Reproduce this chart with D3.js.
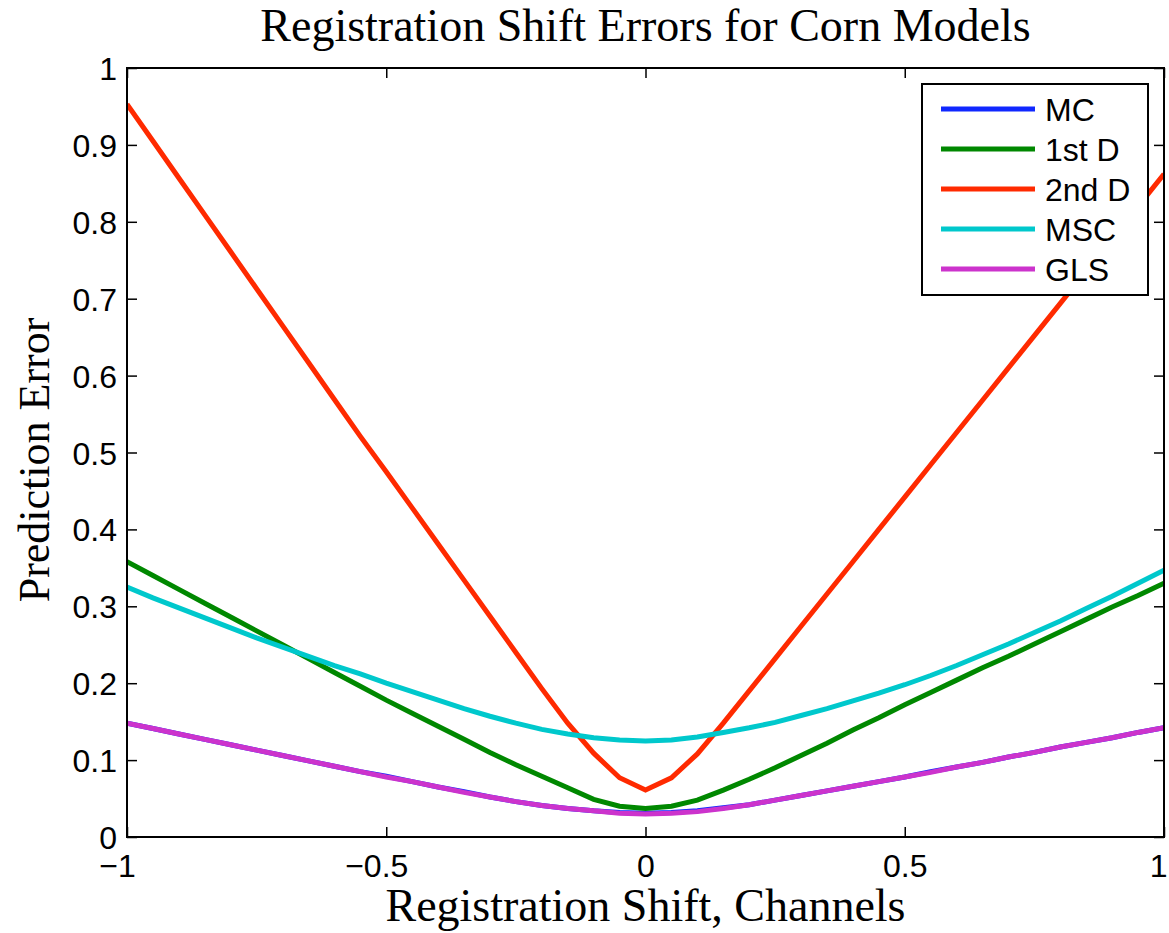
<!DOCTYPE html>
<html>
<head>
<meta charset="utf-8">
<script src="https://cdn.jsdelivr.net/npm/d3@7"></script>
<style>
  html, body { margin: 0; padding: 0; background: #fff; }
  svg { display: block; }
</style>
</head>
<body>
<svg id="chart" width="1169" height="933"></svg>
<script>
// ---- data ----
const shifts = [-1,-0.95,-0.9,-0.85,-0.8,-0.75,-0.7,-0.65,-0.6,-0.55,-0.5,-0.45,-0.4,-0.35,-0.3,-0.25,-0.2,-0.15,-0.1,-0.05,0,
                0.05,0.1,0.15,0.2,0.25,0.3,0.35,0.4,0.45,0.5,0.55,0.6,0.65,0.7,0.75,0.8,0.85,0.9,0.95,1];

const mcValues = [0.148,0.141,0.134,0.127,0.120,0.113,0.106,0.099,0.092,0.085,0.079,0.072,0.065,0.059,0.052,0.046,0.041,0.037,0.034,0.032,0.031,
                  0.032,0.034,0.038,0.042,0.048,0.054,0.060,0.066,0.072,0.078,0.085,0.091,0.097,0.104,0.110,0.117,0.123,0.129,0.136,0.142];
const firstDValues = [0.358,0.340,0.322,0.304,0.286,0.268,0.250,0.232,0.214,0.196,0.178,0.161,0.144,0.127,0.110,0.094,0.079,0.064,0.049,0.040,0.037,
                      0.040,0.048,0.061,0.075,0.090,0.106,0.122,0.139,0.155,0.172,0.188,0.204,0.220,0.235,0.251,0.267,0.283,0.299,0.314,0.330];
const secondDValues = [0.953,0.905,0.857,0.809,0.761,0.713,0.665,0.617,0.569,0.521,0.475,0.428,0.381,0.334,0.287,0.240,0.193,0.148,0.109,0.077,0.061,
                       0.077,0.108,0.148,0.190,0.232,0.274,0.316,0.358,0.400,0.442,0.484,0.526,0.568,0.610,0.652,0.694,0.736,0.778,0.820,0.862];
const mscValues = [0.325,0.311,0.298,0.285,0.272,0.259,0.247,0.235,0.223,0.212,0.200,0.189,0.178,0.167,0.157,0.148,0.140,0.134,0.129,0.126,0.125,
                   0.126,0.130,0.136,0.142,0.149,0.158,0.167,0.177,0.187,0.198,0.210,0.223,0.237,0.251,0.266,0.281,0.297,0.313,0.330,0.347];
const glsValues = [0.148,0.141,0.134,0.127,0.120,0.113,0.106,0.099,0.092,0.085,0.078,0.072,0.065,0.058,0.052,0.046,0.041,0.037,0.034,0.031,0.030,
                   0.031,0.033,0.037,0.042,0.048,0.054,0.060,0.066,0.072,0.078,0.084,0.091,0.097,0.104,0.110,0.117,0.123,0.129,0.136,0.142];

const seriesNames = ["MC", "1st D", "2nd D", "MSC", "GLS"];
const seriesColors = ["#1028ff", "#008800", "#ff2a00", "#00c8cc", "#cc33cc"];
const xTicks = [-1, -0.5, 0, 0.5, 1];
const xTickLabels = ["\u22121", "\u22120.5", "0", "0.5", "1"];
const yTicks = [0, 0.1, 0.2, 0.3, 0.4, 0.5, 0.6, 0.7, 0.8, 0.9, 1];
const yTickLabels = ["0", "0.1", "0.2", "0.3", "0.4", "0.5", "0.6", "0.7", "0.8", "0.9", "1"];
const titleText = "Registration Shift Errors for Corn Models";
const xLabelText = "Registration Shift, Channels";
const yLabelText = "Prediction Error";

const seriesValues = [mcValues, firstDValues, secondDValues, mscValues, glsValues];

// ---- layout ----
const svg = d3.select("#chart");
const pLeft = 127, pRight = 1164, pTop = 68, pBottom = 837;
const x = d3.scaleLinear().domain([-1, 1]).range([pLeft, pRight]);
const y = d3.scaleLinear().domain([0, 1]).range([pBottom, pTop]);

const sansFont = "'Liberation Sans', Arial, Helvetica, sans-serif";
const serifFont = "'Liberation Serif', 'Times New Roman', serif";

// clip
svg.append("defs").append("clipPath").attr("id", "clip")
  .append("rect").attr("x", pLeft).attr("y", pTop).attr("width", pRight - pLeft).attr("height", pBottom - pTop);

// series lines
const line = d3.line().x((d, i) => x(shifts[i])).y(d => y(d));
const plot = svg.append("g").attr("clip-path", "url(#clip)");
seriesValues.forEach((vals, k) => {
  plot.append("path")
    .datum(vals)
    .attr("d", line)
    .attr("fill", "none")
    .attr("stroke", seriesColors[k])
    .attr("stroke-width", 5)
    .attr("stroke-linejoin", "miter");
});

// axes (ticks inward)
const tickLen = 10;
function styleAxis(g) {
  g.selectAll(".domain").remove();
  g.selectAll(".tick line").attr("stroke", "#000").attr("stroke-width", 1.5);
  g.selectAll("text").attr("font-family", sansFont).attr("font-size", 32).attr("fill", "#000");
}

const xAxisB = svg.append("g").attr("transform", `translate(0,${pBottom})`)
  .call(d3.axisBottom(x).tickValues(xTicks).tickSize(-tickLen).tickPadding(0)
        .tickFormat((d, i) => xTickLabels[i]));
styleAxis(xAxisB);
xAxisB.selectAll("text").attr("y", 40).attr("dy", null)
  .attr("x", d => (d < 0 ? -10 : (d === 1 ? 3 : 0)))
  .attr("text-anchor", d => (d === 1 ? "end" : "middle"));

const xAxisT = svg.append("g").attr("transform", `translate(0,${pTop})`)
  .call(d3.axisTop(x).tickValues(xTicks).tickSize(-tickLen).tickFormat(""));
styleAxis(xAxisT);

const yAxisL = svg.append("g").attr("transform", `translate(${pLeft},0)`)
  .call(d3.axisLeft(y).tickValues(yTicks).tickSize(-tickLen).tickPadding(10)
        .tickFormat((d, i) => yTickLabels[i]));
styleAxis(yAxisL);
yAxisL.selectAll("text").attr("x", -10).attr("dy", "0.36em");

const yAxisR = svg.append("g").attr("transform", `translate(${pRight},0)`)
  .call(d3.axisRight(y).tickValues(yTicks).tickSize(-tickLen).tickFormat(""));
styleAxis(yAxisR);

// box
svg.append("rect")
  .attr("x", pLeft).attr("y", pTop).attr("width", pRight - pLeft).attr("height", pBottom - pTop)
  .attr("fill", "none").attr("stroke", "#000").attr("stroke-width", 2);

// title and labels
svg.append("text")
  .attr("x", (pLeft + pRight) / 2).attr("y", 41)
  .attr("text-anchor", "middle")
  .attr("font-family", serifFont).attr("font-size", 46)
  .text(titleText);

svg.append("text")
  .attr("x", (pLeft + pRight) / 2).attr("y", 921)
  .attr("text-anchor", "middle")
  .attr("font-family", serifFont).attr("font-size", 46)
  .text(xLabelText);

svg.append("text")
  .attr("transform", `translate(49,460) rotate(-90)`)
  .attr("text-anchor", "middle")
  .attr("font-family", serifFont).attr("font-size", 44)
  .text(yLabelText);

// legend
const lgX = 922, lgY = 84, lgW = 226, lgH = 211;
const lg = svg.append("g");
lg.append("rect").attr("x", lgX).attr("y", lgY).attr("width", lgW).attr("height", lgH)
  .attr("fill", "#fff").attr("stroke", "#000").attr("stroke-width", 2);
seriesNames.forEach((name, k) => {
  const ry = lgY + 25 + k * 40;
  lg.append("line")
    .attr("x1", lgX + 19).attr("x2", lgX + 113)
    .attr("y1", ry).attr("y2", ry)
    .attr("stroke", seriesColors[k]).attr("stroke-width", 5);
  lg.append("text")
    .attr("x", lgX + 123).attr("y", ry).attr("dy", "0.36em")
    .attr("font-family", sansFont).attr("font-size", 32)
    .text(name);
});
</script>
</body>
</html>
